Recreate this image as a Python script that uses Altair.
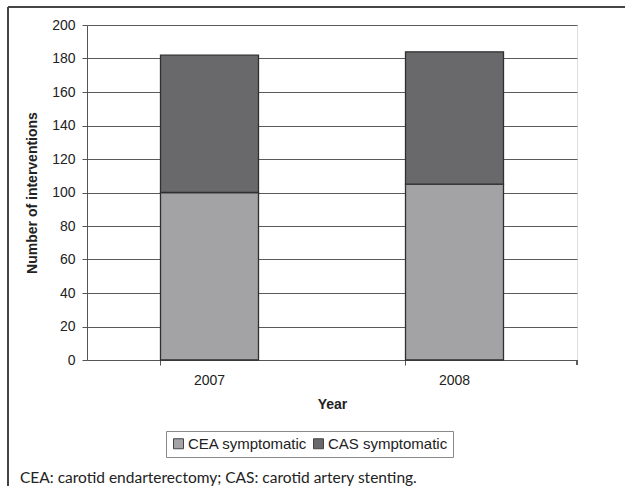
import altair as alt
import pandas as pd

# Symptomatic carotid interventions per year
years = ["2007", "2008"]
procedures = ["CEA symptomatic", "CAS symptomatic"]
cea_counts = [100, 105]
cas_counts = [82, 79]
caption = "CEA: carotid endarterectomy; CAS: carotid artery stenting."

rows = []
for i, y in enumerate(years):
    rows.append({"Year": y, "Procedure": procedures[0], "Count": cea_counts[i], "Order": 0})
    rows.append({"Year": y, "Procedure": procedures[1], "Count": cas_counts[i], "Order": 1})
df = pd.DataFrame(rows)

W, H = 490, 335
PAD_L, PAD_T = 87, 25
PAD_R = 625 - W - PAD_L
PAD_B = 486 - H - PAD_T

bars = alt.Chart(df).mark_bar(stroke="#2f2f2f", strokeWidth=1.3).encode(
    x=alt.X(
        "Year:N",
        scale=alt.Scale(paddingInner=0.6, paddingOuter=0.3),
        axis=alt.Axis(
            title="Year",
            labelAngle=0,
            bandPosition=0,
            ticks=True,
            tickSize=5,
            tickColor="#555555",
            domainColor="#555555",
            labelFontSize=14,
            labelPadding=8,
            labelFont="Liberation Sans",
            labelColor="#222222",
            titleFont="Liberation Sans",
            titleFontSize=14,
            titleFontWeight="bold",
            titleColor="#222222",
            titlePadding=10,
            grid=False,
        ),
    ),
    y=alt.Y(
        "Count:Q",
        stack="zero",
        scale=alt.Scale(domain=[0, 200], nice=False),
        axis=alt.Axis(
            title="Number of interventions",
            values=list(range(0, 201, 20)),
            tickSize=5,
            tickColor="#555555",
            domainColor="#555555",
            labelFontSize=14,
            labelPadding=7,
            labelFont="Liberation Sans",
            labelColor="#222222",
            titleFont="Liberation Sans",
            titleFontSize=14,
            titleFontWeight="bold",
            titleColor="#222222",
            titlePadding=12,
            grid=True,
            gridColor="#5a5a5a",
            gridWidth=1.2,
        ),
    ),
    color=alt.Color(
        "Procedure:N",
        scale=alt.Scale(domain=procedures, range=["#a3a3a6", "#69686b"]),
        legend=alt.Legend(
            title=None,
            orient="none",
            legendX=79,
            legendY=406,
            direction="horizontal",
            symbolType="square",
            symbolSize=100,
            symbolStrokeColor="#444444",
            symbolStrokeWidth=1,
            labelFontSize=15,
            labelFont="Liberation Sans",
            labelColor="#222222",
            labelOffset=2,
            columnPadding=3,
            padding=5,
            strokeColor="#888888",
            fillColor="white",
        ),
    ),
    order=alt.Order("Order:Q"),
)

# Outer frame of the figure (left and top edges)
frame_left = alt.Chart(df).mark_rule(color="#444444", strokeWidth=1.6).encode(
    x=alt.value(8 - PAD_L), y=alt.value(7 - PAD_T), y2=alt.value(486 - PAD_T)
)
frame_top = alt.Chart(df).mark_rule(color="#444444", strokeWidth=1.6).encode(
    x=alt.value(8 - PAD_L), x2=alt.value(625 - PAD_L), y=alt.value(7 - PAD_T)
)
# Closing tick at the end of the category axis
end_tick = alt.Chart(df).mark_rule(color="#555555", strokeWidth=1).encode(
    x=alt.value(W), y=alt.value(H), y2=alt.value(H + 5)
)
# Footnote explaining the abbreviations
note = alt.Chart(pd.DataFrame({"t": [caption]})).mark_text(
    align="left", baseline="alphabetic", font="Lato", fontSize=15.5, color="#222222"
).encode(
    text="t:N", x=alt.value(20 - PAD_L), y=alt.value(483 - PAD_T)
)

chart = (
    alt.layer(bars, end_tick, frame_left, frame_top, note)
    .properties(
        width=W,
        height=H,
        padding={"left": PAD_L, "top": PAD_T, "right": PAD_R, "bottom": PAD_B},
        autosize=alt.AutoSizeParams(type="none"),
    )
    .configure_view(fill="#bcbcc0", stroke="#9a9a9a", strokeWidth=1)
    .configure(background="white")
)

chart.save("out.html", embed_options={"renderer": "svg", "actions": False})
